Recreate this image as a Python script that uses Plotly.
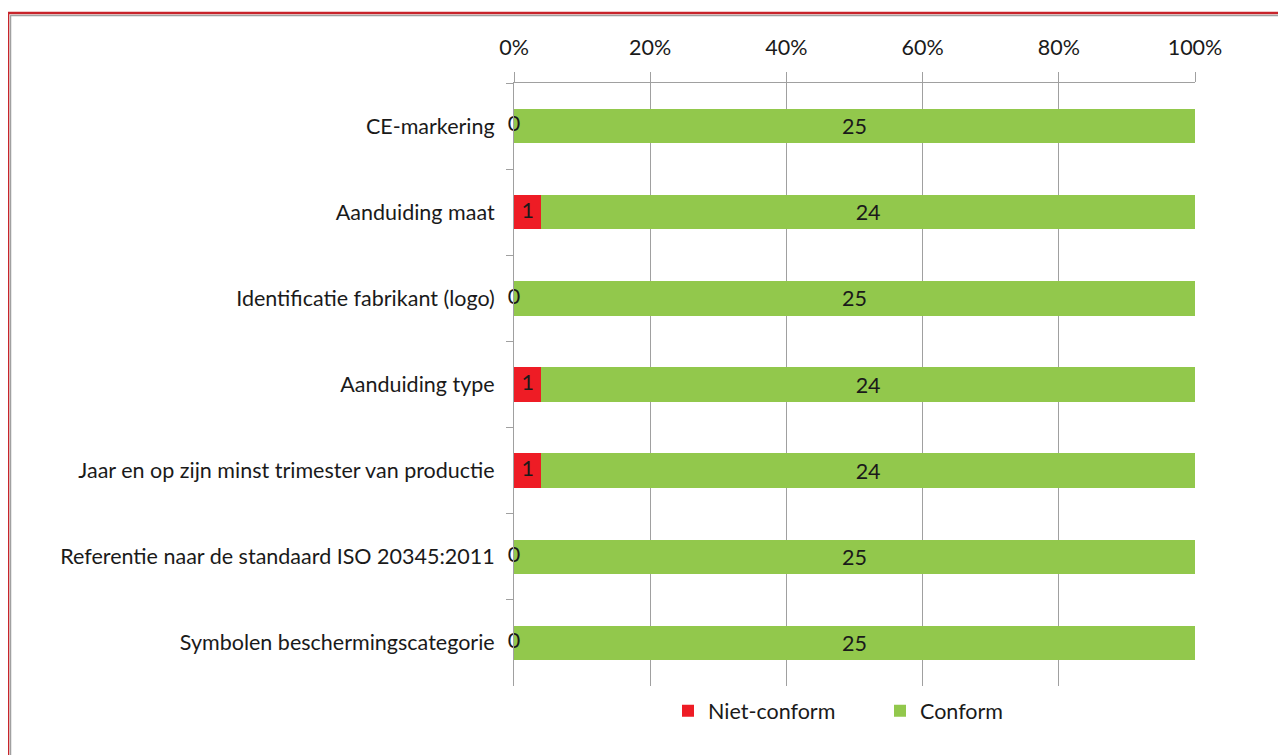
import plotly.graph_objects as go

categories = [
    "CE-markering",
    "Aanduiding maat",
    "Identificatie fabrikant (logo)",
    "Aanduiding type",
    "Jaar en op zijn minst trimester van productie",
    "Referentie naar de standaard ISO 20345:2011",
    "Symbolen beschermingscategorie",
]
niet_conform = [0, 1, 0, 1, 1, 0, 0]
conform = [25, 24, 25, 24, 24, 25, 25]
x_ticks = [0, 20, 40, 60, 80, 100]
x_tick_labels = ["0%", "20%", "40%", "60%", "80%", "100%"]

RED = "#EE1C25"
GREEN = "#92C84C"
FONT = "Lato"
FS = 21.5

fig = go.Figure()
fig.add_trace(go.Bar(
    y=categories, x=niet_conform, orientation="h", name="Niet-conform",
    marker=dict(color=RED, line=dict(width=0)), hoverinfo="skip",
))
fig.add_trace(go.Bar(
    y=categories, x=conform, orientation="h", name="Conform",
    marker=dict(color=GREEN, line=dict(width=0)),
    text=[str(v) for v in conform], textposition="inside",
    insidetextanchor="middle", textfont=dict(color="#1a1a1a", size=FS, family=FONT),
    hoverinfo="skip",
))
# labels for the red segments (centred in the segment, visible also for 0)
totals = [a + b for a, b in zip(niet_conform, conform)]
fig.add_trace(go.Scatter(
    y=categories, x=[100.0 * n / t / 2 for n, t in zip(niet_conform, totals)],
    mode="text", text=[str(v) for v in niet_conform],
    textfont=dict(color="#1a1a1a", size=FS, family=FONT),
    showlegend=False, hoverinfo="skip", cliponaxis=False,
))

# page has an 8px body margin: figure origin sits at (8, 8) in the window
OFF = 8
W, H = 1278, 747
L, R, T, B = 514 - OFF, 91, 83 - OFF, 69
pw, ph = W - L - R, H - T - B


def px(xp):
    return (xp - OFF - L) / pw


def py(yp):
    return 1 - (yp - OFF - T) / ph


shapes = [
    dict(type="line", xref="paper", yref="paper", x0=px(8), x1=px(1300), y0=py(13), y1=py(13),
         line=dict(color="#C8242B", width=2.5)),
    dict(type="line", xref="paper", yref="paper", x0=px(8), x1=px(8), y0=py(13), y1=py(770),
         line=dict(color="#C8242B", width=2.5)),
    dict(type="line", xref="paper", yref="paper", x0=px(10.5), x1=px(1300), y0=py(15.5), y1=py(15.5),
         line=dict(color="#A0A0A0", width=1.5)),
    dict(type="line", xref="paper", yref="paper", x0=px(10.5), x1=px(10.5), y0=py(15), y1=py(770),
         line=dict(color="#A0A0A0", width=1.5)),
]

fig.update_layout(
    width=W, height=H,
    margin=dict(l=L, r=R, t=T, b=B),
    barmode="stack", barnorm="percent", bargap=0.6,
    plot_bgcolor="white", paper_bgcolor="white",
    font=dict(family=FONT, size=FS, color="#1a1a1a"),
    shapes=shapes,
    legend=dict(orientation="h", x=px(668), xanchor="left", y=-0.007, yanchor="top",
                font=dict(size=FS, family=FONT), itemwidth=30, entrywidth=167,
                entrywidthmode="pixels", traceorder="normal"),
    xaxis=dict(
        side="top", range=[0, 100], tickvals=x_ticks, ticktext=x_tick_labels,
        showgrid=True, gridcolor="#A0A0A0", gridwidth=1,
        showline=True, linecolor="#A0A0A0", linewidth=1,
        ticks="outside", ticklen=10, tickcolor="#A0A0A0",
        ticklabelstandoff=8,
        zeroline=False, fixedrange=True,
    ),
    yaxis=dict(
        categoryorder="array", categoryarray=categories, autorange="reversed",
        showline=True, linecolor="#A0A0A0", linewidth=1,
        ticks="outside", tickson="boundaries", ticklen=7, tickcolor="#A0A0A0",
        ticklabelstandoff=14,
        showgrid=False, fixedrange=True,
    ),
)

fig.write_html("out.html")
